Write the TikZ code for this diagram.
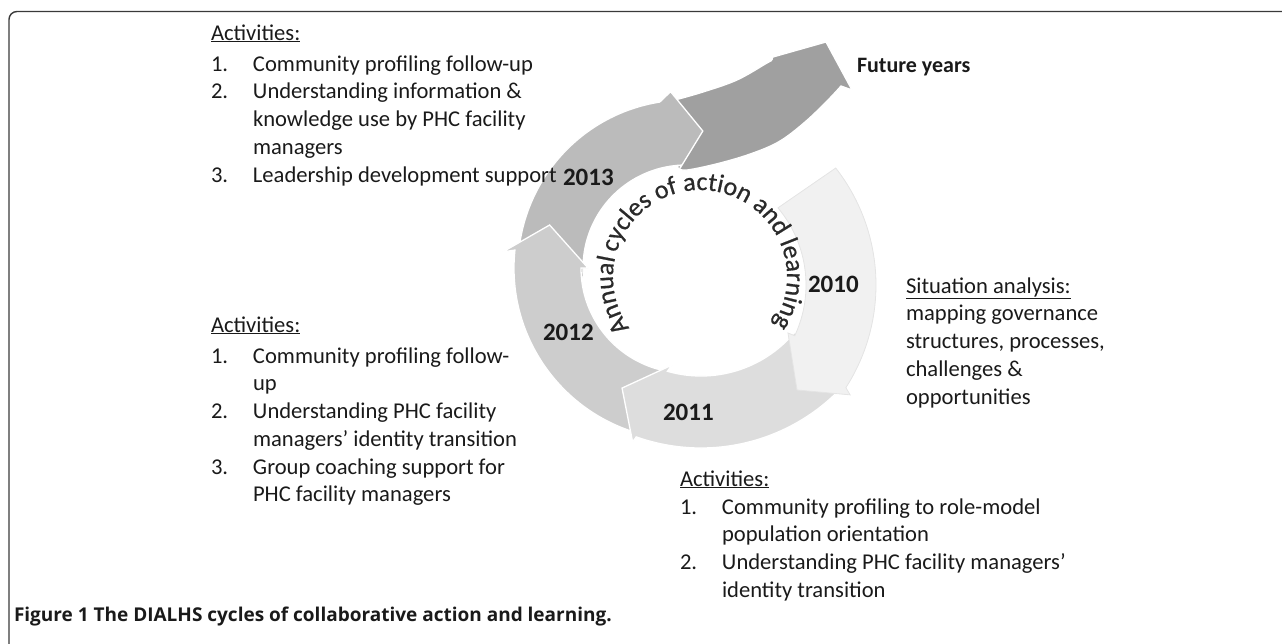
\documentclass[tikz,border=0pt]{standalone}
\usepackage{fontspec}
\setmainfont{Carlito}
\newfontfamily\capfont{Open Sans}
\newfontfamily\curvefam{Carlito}[FakeBold=0.7]
\usetikzlibrary{decorations.text}
\definecolor{cten}{HTML}{F1F1F1}
\definecolor{celeven}{HTML}{DDDDDD}
\definecolor{ctwelve}{HTML}{CDCDCD}
\definecolor{cthirteen}{HTML}{BBBBBB}
\definecolor{cfuture}{HTML}{A0A0A0}
\definecolor{txt}{HTML}{1A1A1A}
\definecolor{curvec}{HTML}{2A2A2A}
\definecolor{framec}{HTML}{3A3A3A}
\definecolor{edgec}{HTML}{E4E4E4}
\newcommand\bodyfont{\fontsize{22.6}{27.75}\selectfont}
\newcommand\yearfont{\fontsize{25}{30}\selectfont\bfseries}
\newcommand\curvefont{\curvefam\fontsize{26}{30}\selectfont}
\begin{document}
\begin{tikzpicture}[x=1pt,y=1pt,
  every node/.style={inner sep=0pt, outer sep=0pt, text=txt},
  body/.style={font=\bodyfont, anchor=base west},
  year/.style={font=\yearfont, anchor=base west},
  arr/.style={draw=white, line width=1.3pt, line join=miter},
  curved/.style={decorate, decoration={text along path, text color=curvec,
     text={|\curvefont|#1}, text align=left}}]
\useasboundingbox (0,0) rectangle (1282,-643);

% frame
\draw[framec, line width=1.4pt, rounded corners=8pt] (1284,-11.5) -- (9,-11.5) -- (9,-645);

% future years band
\fill[arr, fill=cfuture] (678,-166) -- (675,-100)
  -- plot[smooth, tension=0.6] coordinates {(675,-100) (703,-92) (737,-80) (767,-63) (771,-61)}
  -- (773,-57) -- (826,-42) -- (852,-90) -- (841,-86)
  -- plot[smooth, tension=0.6] coordinates {(841,-86) (827,-101) (805,-122) (780,-141) (753,-153) (720,-163) (687,-170) (678,-168)}
  -- cycle;

% 2013 and 2012
\begin{scope}[shift={(686,-268)}]
\fill[arr, fill=cthirteen] (185:168) arc[start angle=185, end angle=99, radius=168]
  -- (95:177) -- (83:138) -- (93.4:100) -- (93:103)
  arc[start angle=93, end angle=185, radius=103] -- cycle;
\fill[arr, fill=ctwelve] (-100:172) arc[start angle=-100, end angle=-186, radius=172]
  -- (175:184) -- (162.5:143) -- (180:98) -- (180:105)
  arc[start angle=180, end angle=260, radius=105] -- cycle;
\end{scope}
% 2011
\begin{scope}[shift={(701,-254)}]
\fill[arr, fill=celeven] (-40:194) arc[start angle=-40, end angle=-109.5, radius=194]
  -- (-110:200) -- (-120.5:155.6) -- (-104.6:114.7) -- (-106:122)
  arc[start angle=-106, end angle=-40, radius=122] -- cycle;
\end{scope}
% 2010
\begin{scope}[shift={(686,-285)}]
\filldraw[fill=cten, draw=edgec, line width=0.8pt] (38:190) arc[start angle=38, end angle=-32.7, radius=190]
  -- (-33.8:197.5) -- (-43.4:152.8) -- (-25.2:112.7) -- (-25:120)
  arc[start angle=-25, end angle=40, radius=120] -- cycle;
\end{scope}

% curved text
\begin{scope}[shift={(700,-277)}]
\path[curved={Annual}] (216:87) arc[start angle=216, end angle=150, radius=87];
\path[curved={cycles of action and learning}] (164:87) arc[start angle=164, end angle=-80, radius=87];
\end{scope}

% years
\node[year] (y13) at (563,-185) {2013};
\node[year] (y12) at (543,-340) {2012};
\node[year] (y11) at (663,-420) {2011};
\node[year] (y10) at (808,-292) {2010};
\node[font=\fontsize{22}{26}\selectfont\bfseries, anchor=base west] (fut) at (857,-72) {Future years};

% top-left block
\node[body] (tlh) at (211,-40) {\underline{Activities:}};
\node[body] (tl) at (211,-71) {\begin{tabular}[t]{@{}p{42pt}@{}l@{}}
1. & Community profiling follow-up\\
2. & Understanding information \&\\
   & knowledge use by PHC facility\\
   & managers\\
3. & Leadership development support
\end{tabular}};

% middle-left block
\node[body] (mlh) at (211,-332) {\underline{Activities:}};
\node[body] (ml) at (211,-363) {\begin{tabular}[t]{@{}p{42pt}@{}l@{}}
1. & Community profiling follow-\\
   & up\\
2. & Understanding PHC facility\\
   & managers’ identity transition\\
3. & Group coaching support for\\
   & PHC facility managers
\end{tabular}};

% right block
\node[body] (sit) at (906,-293) {\begin{tabular}[t]{@{}l@{}}
\underline{Situation analysis:}\\
mapping governance\\
structures, processes,\\
challenges \&\\
opportunities
\end{tabular}};

% bottom-right block
\node[body] (brh) at (680,-486) {\underline{Activities:}};
\node[body] (br) at (680,-514) {\begin{tabular}[t]{@{}p{42pt}@{}l@{}}
1. & Community profiling to role-model\\
   & population orientation\\
2. & Understanding PHC facility managers’\\
   & identity transition
\end{tabular}};

% caption
\node[font=\capfont\fontsize{19}{23}\selectfont\bfseries, anchor=base west] (cap) at (14,-621)
  {Figure 1 The DIALHS cycles of collaborative action and learning.};
\end{tikzpicture}
\end{document}
